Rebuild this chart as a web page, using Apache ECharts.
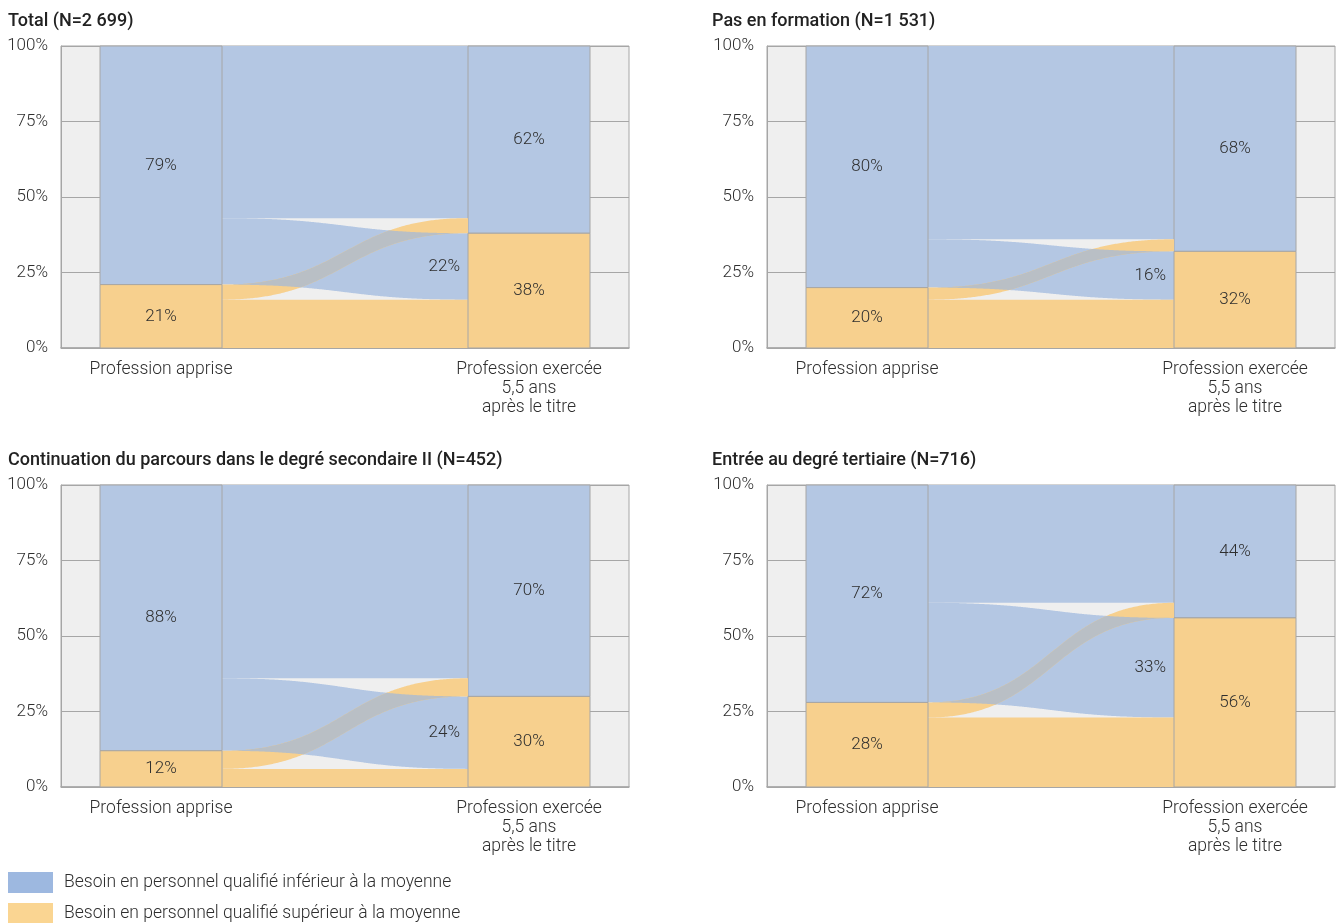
<!DOCTYPE html>
<html>
<head>
<meta charset="utf-8">
<script src="https://cdn.jsdelivr.net/npm/echarts@6.0.0/dist/echarts.min.js"></script>
<style>
  html, body { margin: 0; padding: 0; background: #ffffff; }
  #chart { width: 1344px; height: 923px; }
</style>
</head>
<body>
<div id="chart"></div>
<script>
// Panel headings
const panelTitles = [
  'Total (N=2 699)',
  'Pas en formation (N=1 531)',
  'Continuation du parcours dans le degré secondaire II (N=452)',
  'Entrée au degré tertiaire (N=716)'
];
// Flows between learned and practised profession, in % of each group
const stayHigh  = [16, 16, 6, 23];   // supérieur -> supérieur
const highToLow = [5, 4, 6, 5];      // supérieur -> inférieur
const lowToHigh = [22, 16, 24, 33];  // inférieur -> supérieur
const stayLow   = [57, 64, 64, 39];  // inférieur -> inférieur

const stageLabels = ['Profession apprise', 'Profession exercée\n5,5 ans\naprès le titre'];
const percentTicks = [0, 25, 50, 75, 100];
const legendNames = [
  'Besoin en personnel qualifié inférieur à la moyenne',
  'Besoin en personnel qualifié supérieur à la moyenne'
];

const BLUE = '#b4c7e3', ORANGE = '#f7d08e', CROSS = '#b9bfc5', BG = '#efefef', LINE = '#a6a6a6';
const TEXT = '#2e2e2e';
const FONT = 'Roboto, "Noto Sans", sans-serif';
// horizontal axis runs 0..568; bar spans in those units
const X_MAX = 568;
const LB = [39, 161], RB = [407, 529];
const SAMPLES = 200;

const ease = t => 3 * t * t - 2 * t * t * t;             // vertical progress of a link curve
const linkX = t => LB[1] + (RB[0] - LB[1]) * (1.5 * t * (1 - t) + t * t * t);
const linkY = (y0, y1, t) => y0 + (y1 - y0) * ease(t);

function band(api, lo0, hi0, lo1, hi1) {
  const upper = [], lower = [];
  for (let i = 0; i <= SAMPLES; i++) {
    const t = i / SAMPLES, x = linkX(t);
    upper.push(api.coord([x, linkY(hi0, hi1, t)]));
    lower.push(api.coord([x, linkY(lo0, lo1, t)]));
  }
  return upper.concat(lower.reverse());
}

function rect(api, x0, x1, y0, y1) {
  const a = api.coord([x0, y1]), b = api.coord([x1, y0]);
  return { x: a[0], y: a[1], width: b[0] - a[0], height: b[1] - a[1] };
}

function label(api, text, x, y, align) {
  const p = api.coord([x, y]);
  return {
    type: 'text', z2: 20,
    style: { text, x: p[0], y: p[1], fill: TEXT, font: '300 17px ' + FONT,
             align: align || 'center', verticalAlign: 'middle' }
  };
}

function flows(api) {
  const hh = api.value(0), hl = api.value(1), lh = api.value(2), ll = api.value(3);
  return { hh, hl, lh, ll, top: hh + hl + lh };
}

// Blue ("inférieur") marks of one panel
function renderLow(params, api) {
  const f = flows(api);
  const leftLow = f.lh + f.ll, rightLow = f.hl + f.ll;
  const children = [
    { type: 'rect', shape: rect(api, LB[1], RB[0], 0, 100), style: { fill: BG } },
    { type: 'rect', shape: rect(api, LB[1], RB[0], f.top, 100), style: { fill: BLUE } },
    { type: 'polygon', shape: { points: band(api, f.hh + f.hl, f.top, f.hh, f.hh + f.lh) },
      style: { fill: BLUE } },
    { type: 'rect', shape: rect(api, LB[0], LB[1], 100 - leftLow, 100),
      style: { fill: BLUE, stroke: LINE, lineWidth: 1 } },
    { type: 'rect', shape: rect(api, RB[0], RB[1], 100 - rightLow, 100),
      style: { fill: BLUE, stroke: LINE, lineWidth: 1 } },
    label(api, leftLow + '%', (LB[0] + LB[1]) / 2, 100 - leftLow / 2),
    label(api, rightLow + '%', (RB[0] + RB[1]) / 2, 100 - rightLow / 2),
    label(api, f.lh + '%', RB[0] - 8, f.hh + f.lh / 2, 'right')
  ];
  return { type: 'group', children };
}

// Orange ("supérieur") marks of one panel, plus the crossing of the two moving flows
function renderHigh(params, api) {
  const f = flows(api);
  const leftHigh = f.hh + f.hl, rightHigh = f.hh + f.lh;
  // overlap of the orange link (hh..hh+hl -> hh+lh..top) with the blue link
  const up = [], dn = [];
  for (let i = 0; i <= SAMPLES; i++) {
    const t = i / SAMPLES, x = linkX(t);
    const lo = Math.max(linkY(f.hh, f.hh + f.lh, t), linkY(f.hh + f.hl, f.hh, t));
    const hi = Math.min(linkY(f.hh + f.hl, f.top, t), linkY(f.top, f.hh + f.lh, t));
    if (hi > lo) {
      up.push(api.coord([x, hi]));
      dn.push(api.coord([x, lo]));
    }
  }
  const children = [
    { type: 'rect', shape: rect(api, LB[1], RB[0], 0, f.hh), style: { fill: ORANGE } },
    { type: 'polygon', shape: { points: band(api, f.hh, f.hh + f.hl, f.hh + f.lh, f.top) },
      style: { fill: ORANGE } },
    { type: 'polygon', shape: { points: up.concat(dn.reverse()) }, style: { fill: CROSS } },
    { type: 'rect', shape: rect(api, LB[0], LB[1], 0, leftHigh),
      style: { fill: ORANGE, stroke: LINE, lineWidth: 1 } },
    { type: 'rect', shape: rect(api, RB[0], RB[1], 0, rightHigh),
      style: { fill: ORANGE, stroke: LINE, lineWidth: 1 } },
    label(api, leftHigh + '%', (LB[0] + LB[1]) / 2, leftHigh / 2),
    label(api, rightHigh + '%', (RB[0] + RB[1]) / 2, rightHigh / 2)
  ];
  return { type: 'group', children };
}

const gridPos = [
  { left: 61, top: 46 }, { left: 767, top: 46 },
  { left: 61, top: 485 }, { left: 767, top: 485 }
];
const titlePos = [
  { left: 8, top: 12 }, { left: 712, top: 12 },
  { left: 8, top: 451 }, { left: 712, top: 451 }
];

const option = {
  animation: false,
  backgroundColor: '#ffffff',
  textStyle: { fontFamily: FONT },
  title: panelTitles.map((t, i) => ({
    text: t, left: titlePos[i].left, top: titlePos[i].top, padding: 0,
    textStyle: { fontSize: 18, fontWeight: 500, color: '#222', fontFamily: FONT }
  })),
  legend: {
    orient: 'vertical', left: 8, top: 872, padding: 0, height: 60,
    itemWidth: 45, itemHeight: 21, itemGap: 10, selectedMode: false,
    data: legendNames.map((n, i) => ({
      name: n, icon: 'rect',
      itemStyle: { color: i === 0 ? '#9db8e0' : '#fad592', borderWidth: 0 }
    })),
    textStyle: { fontSize: 17.5, fontWeight: 300, color: TEXT, fontFamily: FONT,
                 padding: [4, 0, 0, 6] }
  },
  grid: gridPos.map(g => ({
    left: g.left, top: g.top, width: 568, height: 302,
    show: true, backgroundColor: BG, borderColor: LINE, borderWidth: 1,
    containLabel: false, outerBoundsMode: 'none'
  })),
  xAxis: gridPos.map((g, i) => ({
    type: 'value', gridIndex: i, min: 0, max: X_MAX, interval: 4,
    axisLine: { show: true, lineStyle: { color: LINE, width: 1.5 } },
    axisTick: { show: false }, splitLine: { show: false },
    axisLabel: {
      margin: 12, fontSize: 17.5, fontWeight: 300, lineHeight: 19, color: TEXT, fontFamily: FONT,
      formatter: v => v === (LB[0] + LB[1]) / 2 ? stageLabels[0]
                    : v === (RB[0] + RB[1]) / 2 ? stageLabels[1] : ''
    }
  })),
  yAxis: gridPos.map((g, i) => ({
    type: 'value', gridIndex: i,
    min: percentTicks[0], max: percentTicks[percentTicks.length - 1],
    interval: percentTicks[1] - percentTicks[0],
    axisLine: { show: true, lineStyle: { color: LINE } },
    axisTick: { show: false },
    splitLine: { show: true, lineStyle: { color: LINE, width: 1 } },
    axisLabel: { margin: 13, fontSize: 17, fontWeight: 300, color: TEXT, fontFamily: FONT,
                 padding: [4, 0, 0, 0], formatter: v => v + '%' }
  })),
  series: []
};

panelTitles.forEach((t, i) => {
  const datum = [[stayHigh[i], highToLow[i], lowToHigh[i], stayLow[i]]];
  option.series.push({
    type: 'custom', name: legendNames[0], xAxisIndex: i, yAxisIndex: i,
    color: BLUE, silent: true, renderItem: renderLow, data: datum, z: 2
  });
  option.series.push({
    type: 'custom', name: legendNames[1], xAxisIndex: i, yAxisIndex: i,
    color: ORANGE, silent: true, renderItem: renderHigh, data: datum, z: 3
  });
});

const chart = echarts.init(document.getElementById('chart'), null, { renderer: 'canvas' });
chart.setOption(option);
</script>
</body>
</html>
